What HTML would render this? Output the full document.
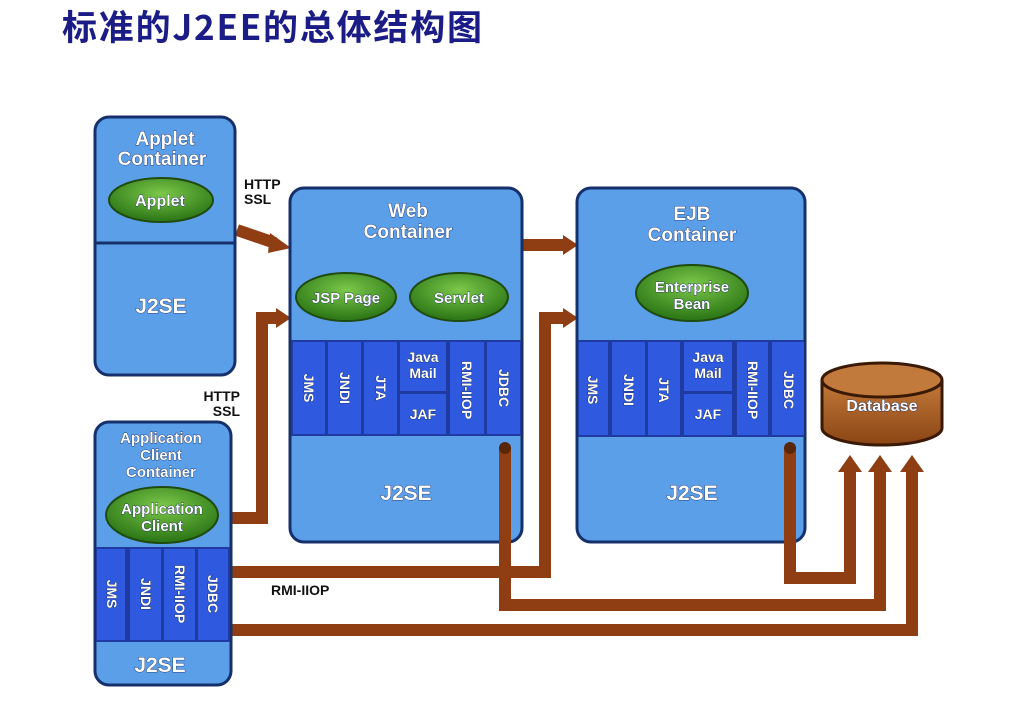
<!DOCTYPE html>
<html><head><meta charset="utf-8"><style>
html,body{margin:0;padding:0;background:#fff;width:1035px;height:713px;overflow:hidden}
svg text{font-family:"Liberation Sans",sans-serif;font-weight:bold}
.w{fill:#fff;stroke:#1a2a60;stroke-width:0.8;paint-order:stroke}
.k{fill:#111}
</style></head><body>
<svg width="1035" height="713" viewBox="0 0 1035 713" xmlns="http://www.w3.org/2000/svg" font-weight="bold">
<defs>
<radialGradient id="g" cx="50%" cy="35%" r="60%"><stop offset="0" stop-color="#7cc84a"/><stop offset="1" stop-color="#2f7a18"/></radialGradient>
<linearGradient id="db" x1="0" y1="0" x2="0" y2="1"><stop offset="0" stop-color="#c47a3a"/><stop offset="1" stop-color="#8a4514"/></linearGradient>
</defs>
<text x="62" y="40" style="font-family:'Noto Sans CJK SC','WenQuanYi Zen Hei',sans-serif;font-size:35px;font-weight:bold" fill="#1c1c86" textLength="420">标准的J2EE的总体结构图</text>

<!-- connectors -->
<g fill="none" stroke="#8e3e12" stroke-width="12">
<path d="M230 630 H912 V470"/>
<path d="M230 572 H545 V318 H565"/>
<path d="M230 518 H262 V318 H278"/>
<path d="M522 245 H565"/>
<path d="M237 230 L275 243"/>
</g>
<g fill="#8e3e12">
<polygon points="838,472 850,455 862,472"/>
<polygon points="868,472 880,455 892,472"/>
<polygon points="900,472 912,455 924,472"/>
<polygon points="563,235 578,245 563,255"/>
<polygon points="563,308 578,318 563,328"/>
<polygon points="276,308 291,318 276,328"/>
<polygon points="270,233 291,248 268,253"/>
</g>

<!-- Applet container -->
<rect x="95" y="117" width="140" height="258" rx="14" fill="#5b9fe8" stroke="#15306a" stroke-width="3"/>
<line x1="96" y1="243" x2="234" y2="243" stroke="#15306a" stroke-width="3"/>
<text x="165" y="145" text-anchor="middle" font-size="19" class="w">Applet</text>
<text x="162" y="165" text-anchor="middle" font-size="19" class="w">Container</text>
<ellipse cx="161" cy="200" rx="52" ry="22" fill="url(#g)" stroke="#1f4a10" stroke-width="2"/>
<text x="160" y="206" text-anchor="middle" font-size="16" class="w">Applet</text>
<text x="161" y="313" text-anchor="middle" font-size="21" class="w">J2SE</text>

<!-- Web container -->
<rect x="290" y="188" width="232" height="354" rx="14" fill="#5b9fe8" stroke="#15306a" stroke-width="3"/>
<rect x="291" y="340" width="230" height="96" fill="#1f3aa0"/>
<g fill="#2f5ae0">
<rect x="293" y="342" width="32" height="92"/><rect x="328" y="342" width="33" height="92"/><rect x="364" y="342" width="33" height="92"/>
<rect x="400" y="342" width="46" height="49"/><rect x="400" y="394" width="46" height="40"/>
<rect x="450" y="342" width="34" height="92"/><rect x="487" y="342" width="33" height="92"/>
</g>
<text x="408" y="217" text-anchor="middle" font-size="19" class="w">Web</text>
<text x="408" y="238" text-anchor="middle" font-size="19" class="w">Container</text>
<ellipse cx="346" cy="297" rx="50" ry="24" fill="url(#g)" stroke="#1f4a10" stroke-width="2"/>
<text x="346" y="303" text-anchor="middle" font-size="15" class="w">JSP Page</text>
<ellipse cx="459" cy="297" rx="49" ry="24" fill="url(#g)" stroke="#1f4a10" stroke-width="2"/>
<text x="459" y="303" text-anchor="middle" font-size="15" class="w">Servlet</text>
<g font-size="14">
<text transform="translate(304,388) rotate(90)" text-anchor="middle" class="w">JMS</text>
<text transform="translate(340,388) rotate(90)" text-anchor="middle" class="w">JNDI</text>
<text transform="translate(376,388) rotate(90)" text-anchor="middle" class="w">JTA</text>
<text x="423" y="362" text-anchor="middle" class="w">Java</text>
<text x="423" y="378" text-anchor="middle" class="w">Mail</text>
<text x="423" y="419" text-anchor="middle" class="w">JAF</text>
<text transform="translate(462,390) rotate(90)" text-anchor="middle" class="w">RMI-IIOP</text>
<text transform="translate(499,388) rotate(90)" text-anchor="middle" class="w">JDBC</text>
</g>
<text x="406" y="500" text-anchor="middle" font-size="21" class="w">J2SE</text>

<!-- EJB container -->
<rect x="577" y="188" width="228" height="354" rx="14" fill="#5b9fe8" stroke="#15306a" stroke-width="3"/>
<rect x="578" y="340" width="226" height="97" fill="#1f3aa0"/>
<g fill="#2f5ae0">
<rect x="579" y="342" width="29" height="93"/><rect x="612" y="342" width="33" height="93"/><rect x="648" y="342" width="32" height="93"/>
<rect x="684" y="342" width="48" height="49"/><rect x="684" y="394" width="48" height="41"/>
<rect x="737" y="342" width="31" height="93"/><rect x="772" y="342" width="32" height="93"/>
</g>
<text x="692" y="220" text-anchor="middle" font-size="19" class="w">EJB</text>
<text x="692" y="241" text-anchor="middle" font-size="19" class="w">Container</text>
<ellipse cx="692" cy="293" rx="56" ry="28" fill="url(#g)" stroke="#1f4a10" stroke-width="2"/>
<text x="692" y="292" text-anchor="middle" font-size="15" class="w">Enterprise</text>
<text x="692" y="309" text-anchor="middle" font-size="15" class="w">Bean</text>
<g font-size="14">
<text transform="translate(588,390) rotate(90)" text-anchor="middle" class="w">JMS</text>
<text transform="translate(624,390) rotate(90)" text-anchor="middle" class="w">JNDI</text>
<text transform="translate(659,390) rotate(90)" text-anchor="middle" class="w">JTA</text>
<text x="708" y="362" text-anchor="middle" class="w">Java</text>
<text x="708" y="378" text-anchor="middle" class="w">Mail</text>
<text x="708" y="419" text-anchor="middle" class="w">JAF</text>
<text transform="translate(748,390) rotate(90)" text-anchor="middle" class="w">RMI-IIOP</text>
<text transform="translate(784,390) rotate(90)" text-anchor="middle" class="w">JDBC</text>
</g>
<text x="692" y="500" text-anchor="middle" font-size="21" class="w">J2SE</text>

<!-- JDBC lines drawn over containers -->
<g fill="none" stroke="#8e3e12" stroke-width="12" stroke-linecap="round">
<path d="M505 448 V605 H880 V470" stroke-linecap="butt"/>
<path d="M790 448 V578 H850 V470" stroke-linecap="butt"/>
</g>
<circle cx="505" cy="448" r="6" fill="#5a2608"/>
<circle cx="790" cy="448" r="6" fill="#5a2608"/>

<!-- App client container -->
<rect x="95" y="422" width="136" height="263" rx="14" fill="#5b9fe8" stroke="#15306a" stroke-width="3"/>
<rect x="96" y="547" width="134" height="95" fill="#1f3aa0"/>
<g fill="#2f5ae0">
<rect x="97" y="549" width="28" height="91"/><rect x="130" y="549" width="31" height="91"/><rect x="164" y="549" width="31" height="91"/><rect x="198" y="549" width="30" height="91"/>
</g>
<text x="161" y="443" text-anchor="middle" font-size="15" class="w">Application</text>
<text x="161" y="460" text-anchor="middle" font-size="15" class="w">Client</text>
<text x="161" y="477" text-anchor="middle" font-size="15" class="w">Container</text>
<ellipse cx="162" cy="515" rx="56" ry="28" fill="url(#g)" stroke="#1f4a10" stroke-width="2"/>
<text x="162" y="514" text-anchor="middle" font-size="15" class="w">Application</text>
<text x="162" y="531" text-anchor="middle" font-size="15" class="w">Client</text>
<g font-size="14">
<text transform="translate(107,594) rotate(90)" text-anchor="middle" class="w">JMS</text>
<text transform="translate(141,594) rotate(90)" text-anchor="middle" class="w">JNDI</text>
<text transform="translate(175,594) rotate(90)" text-anchor="middle" class="w">RMI-IIOP</text>
<text transform="translate(208,594) rotate(90)" text-anchor="middle" class="w">JDBC</text>
</g>
<text x="160" y="672" text-anchor="middle" font-size="21" class="w">J2SE</text>

<!-- Database -->
<path d="M822 380 V428 A60 17 0 0 0 942 428 V380" fill="url(#db)" stroke="#3a1a05" stroke-width="3"/>
<ellipse cx="882" cy="380" rx="60" ry="17" fill="#c27a3c" stroke="#3a1a05" stroke-width="3"/>
<text x="882" y="411" text-anchor="middle" font-size="16" class="w">Database</text>

<!-- labels -->
<g font-size="14">
<text x="244" y="189" class="k">HTTP</text>
<text x="244" y="204" class="k">SSL</text>
<text x="240" y="401" text-anchor="end" class="k">HTTP</text>
<text x="240" y="416" text-anchor="end" class="k">SSL</text>
<text x="271" y="595" class="k">RMI-IIOP</text>
</g>
</svg>
</body></html>
